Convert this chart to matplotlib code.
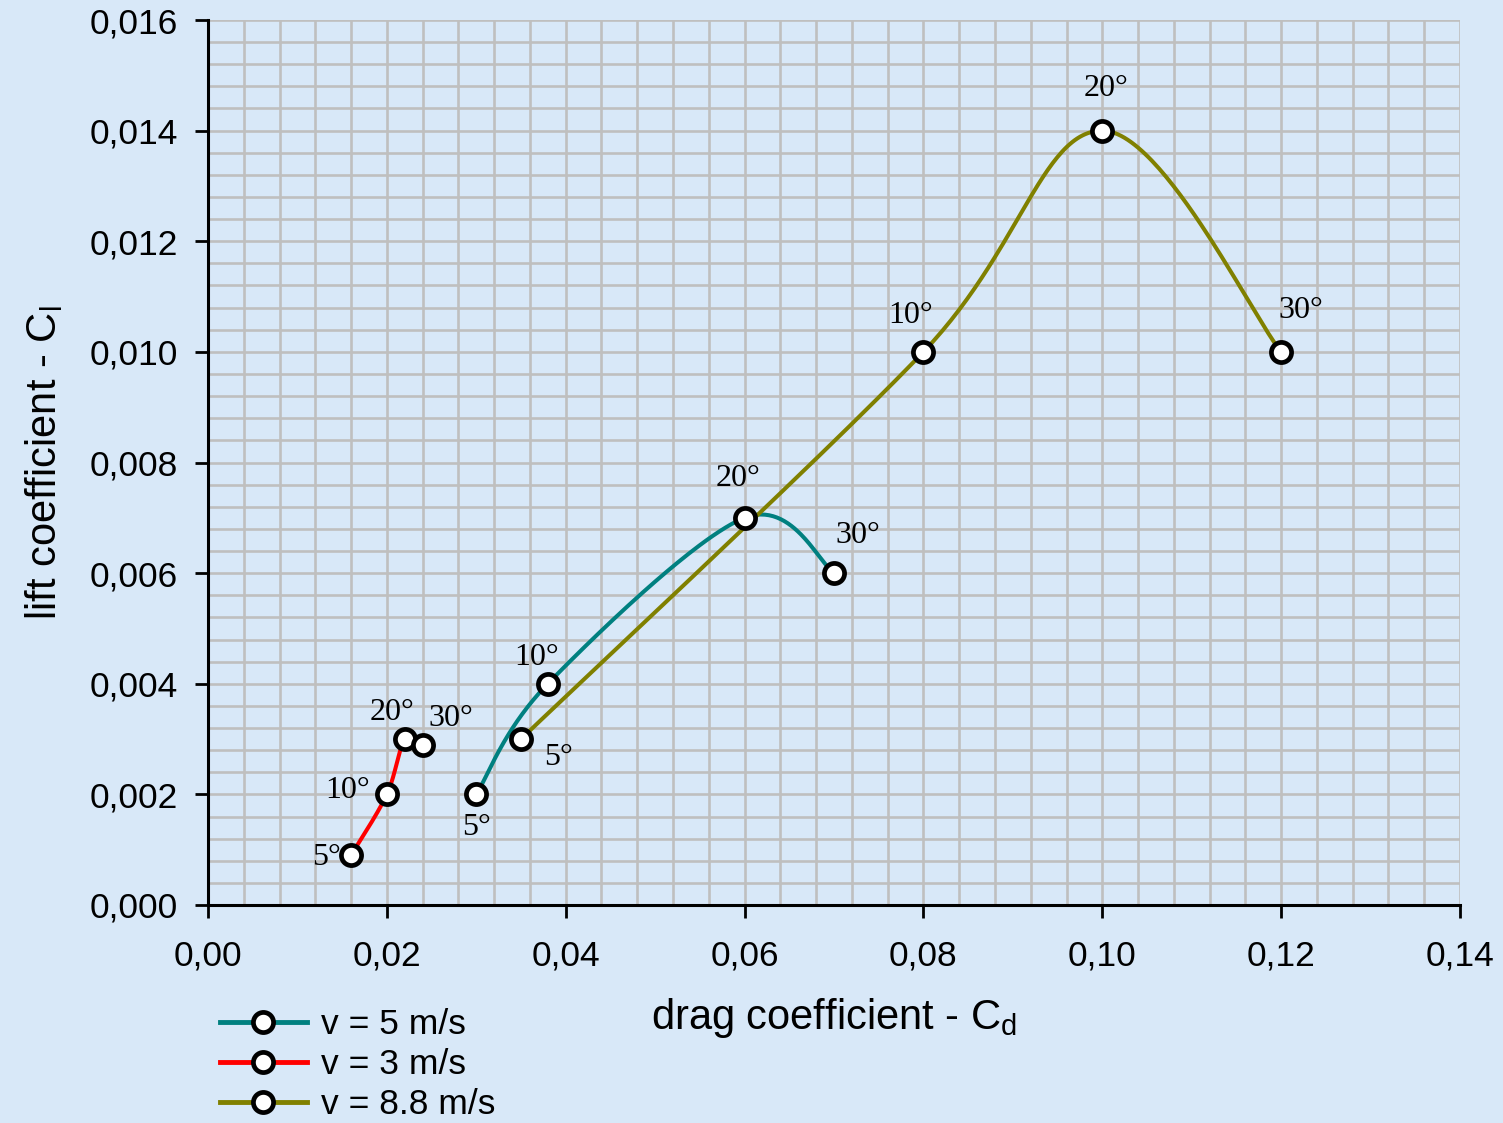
import numpy as np
import matplotlib
matplotlib.use("Agg")
import matplotlib.pyplot as plt
from matplotlib.ticker import MultipleLocator, FuncFormatter

plt.rcParams['font.family'] = ['Liberation Sans', 'DejaVu Sans']
plt.rcParams['mathtext.fontset'] = 'custom'
plt.rcParams['mathtext.rm'] = 'Liberation Sans'
plt.rcParams['mathtext.it'] = 'Liberation Sans'

# ---- data ----
angle_labels = ['5°', '10°', '20°', '30°']

v5_cd = [0.030, 0.038, 0.060, 0.070]
v5_cl = [0.0020, 0.0040, 0.0070, 0.0060]

v3_cd = [0.016, 0.020, 0.022, 0.024]
v3_cl = [0.0009, 0.0020, 0.0030, 0.0029]

v88_cd = [0.035, 0.080, 0.100, 0.120]
v88_cl = [0.0030, 0.0100, 0.0140, 0.0100]

series_names = ['v = 5 m/s', 'v = 3 m/s', 'v = 8.8 m/s']

x_ticks = [0.00, 0.02, 0.04, 0.06, 0.08, 0.10, 0.12, 0.14]
y_ticks = [0.000, 0.002, 0.004, 0.006, 0.008, 0.010, 0.012, 0.014, 0.016]

# ---- style / layout ----
colors = ['#008080', '#ff0000', '#808000']
# label offsets in points (dx, dy) per series per point
offsets = [
    [(0, -24), (-8, 19), (-5, 28), (17, 27)],
    [(-18, -2), (-28, 3), (-9, 19), (20, 19)],
    [(27, -13), (-9, 26), (3, 30), (14, 30)],
]
bg = '#d8e8f8'

W, H = 1503, 1123
fig = plt.figure(figsize=(W / 100, H / 100), dpi=100, facecolor=bg)
ax = fig.add_axes([208 / W, 1 - 905 / H, (1460 - 208) / W, (905 - 20) / H])
ax.set_facecolor(bg)

xmin, xmax = 0.0, 0.14
ymin, ymax = 0.0, 0.016
ax.set_xlim(xmin, xmax)
ax.set_ylim(ymin, ymax)


def smooth(xs, ys, n=60):
    # Catmull-Rom / Bezier smoothing in normalized axes space
    px = (np.asarray(xs) - xmin) / (xmax - xmin) * (1460 - 208)
    py = (np.asarray(ys) - ymin) / (ymax - ymin) * (905 - 20)
    P = np.column_stack([px, py])
    m = len(P)
    out = []
    for i in range(m - 1):
        p0 = P[i - 1] if i > 0 else P[i]
        p1 = P[i]
        p2 = P[i + 1]
        p3 = P[i + 2] if i + 2 < m else P[i + 1]
        b1 = p1 + (p2 - p0) / 6.0
        b2 = p2 - (p3 - p1) / 6.0
        t = np.linspace(0, 1, n)[:, None]
        seg = ((1 - t) ** 3) * p1 + 3 * ((1 - t) ** 2) * t * b1 + 3 * (1 - t) * t ** 2 * b2 + t ** 3 * p2
        out.append(seg if i == 0 else seg[1:])
    C = np.vstack(out)
    cx = C[:, 0] / (1460 - 208) * (xmax - xmin) + xmin
    cy = C[:, 1] / (905 - 20) * (ymax - ymin) + ymin
    return cx, cy


MS, MEW, LW = 14.5, 3.4, 2.9
all_x = [v5_cd, v3_cd, v88_cd]
all_y = [v5_cl, v3_cl, v88_cl]
handles = []
for k, (xs, ys) in enumerate(zip(all_x, all_y)):
    cx, cy = smooth(xs, ys)
    ax.plot(cx, cy, color=colors[k], lw=LW, zorder=3, solid_capstyle='round')
    ax.plot(xs, ys, ls='none', marker='o', ms=MS, mfc='white', mec='black', mew=MEW, zorder=4)
    h, = ax.plot([], [], color=colors[k], lw=LW + 0.6, marker='o', ms=MS, mfc='white', mec='black', mew=MEW)
    handles.append(h)
    for j, (x, y) in enumerate(zip(xs, ys)):
        dx, dy = offsets[k][j]
        ax.annotate(angle_labels[j], (x, y), xytext=(dx, dy), textcoords='offset points',
                    ha='center', va='center', fontsize=23, family='Liberation Serif', zorder=5)

ax.set_xticks(x_ticks)
ax.set_yticks(y_ticks)
ax.xaxis.set_minor_locator(MultipleLocator(0.004))
ax.yaxis.set_minor_locator(MultipleLocator(0.0004))
ax.xaxis.set_major_formatter(FuncFormatter(lambda v, p: f'{v:.2f}'.replace('.', ',')))
ax.yaxis.set_major_formatter(FuncFormatter(lambda v, p: f'{v:.3f}'.replace('.', ',')))
ax.grid(True, which='both', color='#bfbfbf', lw=1.9, zorder=0)
ax.set_axisbelow(True)
ax.tick_params(which='major', direction='out', length=9.5, width=2, labelsize=25.5, color='black')
ax.tick_params(axis='x', which='major', pad=15)
ax.tick_params(axis='y', which='major', pad=12)
ax.tick_params(which='minor', length=0)
for s in ['top', 'right']:
    ax.spines[s].set_visible(False)
for s in ['left', 'bottom']:
    ax.spines[s].set_linewidth(2.2)
    ax.spines[s].set_zorder(6)

ax.set_xlabel(r'drag coefficient - C$_{\mathrm{d}}$', fontsize=30, labelpad=17)
ax.set_ylabel(r'lift coefficient - C$_{\mathrm{l}}$', fontsize=30, labelpad=18)

fig.legend(handles, series_names, loc='upper left', bbox_to_anchor=(220 / W, 1 - 1008 / H),
           frameon=False, fontsize=25.5, handlelength=2.45, labelspacing=0.2, handletextpad=0.4,
           borderaxespad=0, borderpad=0)

fig.savefig('out.png', dpi=100, facecolor=bg)
